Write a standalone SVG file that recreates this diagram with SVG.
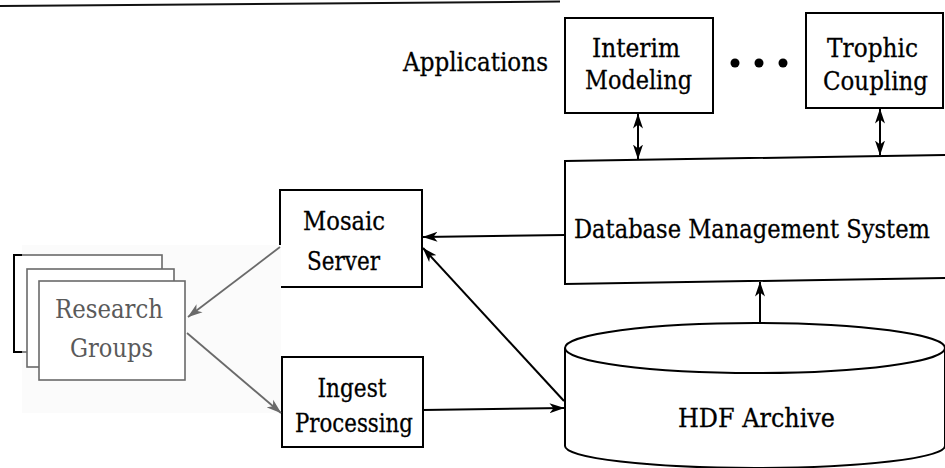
<svg xmlns="http://www.w3.org/2000/svg" width="945" height="468" viewBox="0 0 945 468">
  <defs>
    <marker id="head" viewBox="0 0 15 11" refX="14.5" refY="5.5" markerWidth="15" markerHeight="11" markerUnits="userSpaceOnUse" orient="auto-start-reverse">
      <path d="M0,0.5 L15,5.5 L0,10.5 L4,5.5 z" fill="#000"/>
    </marker>
    <marker id="headGray" viewBox="0 0 15 11" refX="14.5" refY="5.5" markerWidth="15" markerHeight="11" markerUnits="userSpaceOnUse" orient="auto">
      <path d="M0,0.5 L15,5.5 L0,10.5 L4,5.5 z" fill="#6a6a6a"/>
    </marker>
  </defs>
  <style>
    text { font-family: "DejaVu Serif", "Liberation Serif", serif; font-size: 26px; fill: #000; stroke: #000; stroke-width: 0.3; text-anchor: middle; }
    .box { fill: #fff; stroke: #000; stroke-width: 2; }
    .gbox { fill: #fff; stroke: #6a6a6a; stroke-width: 1.6; }
    .gtext { fill: #5a5a5a; stroke: none; }
    .link { fill: none; stroke: #000; stroke-width: 2; }
    .glink { fill: none; stroke: #6a6a6a; stroke-width: 1.8; }
  </style>

  <rect width="945" height="468" fill="#fff"/>

  <!-- rule across the top -->
  <line x1="0" y1="6" x2="560" y2="1.5" stroke="#111" stroke-width="2"/>

  <!-- label -->
  <text x="475.5" y="71" textLength="145" lengthAdjust="spacingAndGlyphs">Applications</text>

  <g id="interim-modeling">
    <rect class="box" x="565" y="18" width="148" height="95"/>
    <text x="636" y="57" textLength="88" lengthAdjust="spacingAndGlyphs">Interim</text>
    <text x="638.5" y="89" textLength="107" lengthAdjust="spacingAndGlyphs">Modeling</text>
  </g>

  <g id="ellipsis">
    <circle cx="735" cy="63" r="4.5" fill="#000"/>
    <circle cx="759" cy="63" r="4.5" fill="#000"/>
    <circle cx="783" cy="63" r="4.5" fill="#000"/>
  </g>

  <g id="trophic-coupling">
    <rect class="box" x="806" y="13" width="137" height="95"/>
    <text x="872.5" y="57" textLength="91" lengthAdjust="spacingAndGlyphs">Trophic</text>
    <text x="875.5" y="90" textLength="105" lengthAdjust="spacingAndGlyphs">Coupling</text>
  </g>

  <g id="dbms">
    <path class="box" d="M565,161 L947,155 L947,278 L565,284 Z"/>
    <text x="752" y="238" textLength="356" lengthAdjust="spacingAndGlyphs">Database Management System</text>
  </g>

  <g id="mosaic-server">
    <rect class="box" x="280" y="190" width="142" height="97"/>
    <text x="344" y="230" textLength="82" lengthAdjust="spacingAndGlyphs">Mosaic</text>
    <text x="343.5" y="270" textLength="73" lengthAdjust="spacingAndGlyphs">Server</text>
  </g>

  <g id="ingest-processing">
    <rect class="box" x="282" y="357" width="141" height="90"/>
    <text x="352" y="397" textLength="69" lengthAdjust="spacingAndGlyphs">Ingest</text>
    <text x="354" y="432" textLength="118" lengthAdjust="spacingAndGlyphs">Processing</text>
  </g>

  <g id="hdf-archive">
    <path class="box" d="M565,348 L565,446 A190,22 0 0 0 945,446 L945,348"/>
    <ellipse class="box" cx="755" cy="348" rx="190" ry="25"/>
    <text x="756.5" y="427" textLength="157" lengthAdjust="spacingAndGlyphs">HDF Archive</text>
  </g>

  <g id="research-groups">
    <rect x="22" y="245" width="259" height="168" fill="#fbfbfb"/>
    <rect class="gbox" x="14" y="255" width="148" height="97"/>
    <path d="M22,255 H14 V352 H22" fill="none" stroke="#000" stroke-width="2"/>
    <rect class="gbox" x="27" y="269" width="147" height="98"/>
    <rect class="gbox" x="39" y="281" width="146" height="99"/>
    <text class="gtext" x="109" y="318" textLength="108" lengthAdjust="spacingAndGlyphs">Research</text>
    <text class="gtext" x="111.5" y="357" textLength="83" lengthAdjust="spacingAndGlyphs">Groups</text>
  </g>

  <g id="connectors">
    <!-- applications <-> dbms -->
    <line class="link" x1="638" y1="114" x2="638" y2="159" marker-start="url(#head)" marker-end="url(#head)"/>
    <line class="link" x1="880" y1="109" x2="880" y2="155" marker-start="url(#head)" marker-end="url(#head)"/>
    <!-- dbms -> mosaic -->
    <line class="link" x1="565" y1="235" x2="423" y2="237" marker-end="url(#head)"/>
    <!-- archive -> mosaic -->
    <line class="link" x1="564" y1="401" x2="423" y2="248" marker-end="url(#head)"/>
    <!-- ingest -> archive -->
    <line class="link" x1="423" y1="410" x2="564" y2="408" marker-end="url(#head)"/>
    <!-- archive -> dbms -->
    <line class="link" x1="760" y1="323" x2="760" y2="282" marker-end="url(#head)"/>
    <!-- research groups links -->
    <line class="glink" x1="280" y1="247" x2="188" y2="317" marker-end="url(#headGray)"/>
    <line class="glink" x1="187" y1="333" x2="281" y2="413" marker-end="url(#headGray)"/>
  </g>
</svg>
